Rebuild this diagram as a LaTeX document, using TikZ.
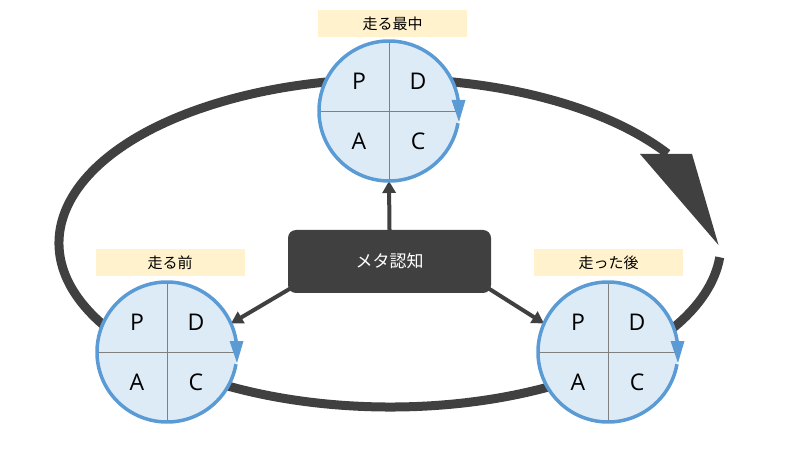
\documentclass[tikz,border=0pt]{standalone}
\usepackage{fontspec}
\setmainfont{Open Sans}
\newfontfamily\jp{Noto Sans CJK JP}
\usetikzlibrary{arrows.meta,calc,backgrounds}
\definecolor{dk}{HTML}{404040}
\definecolor{cblue}{HTML}{5B9BD5}
\definecolor{cfill}{HTML}{DDEBF7}
\definecolor{lblfill}{HTML}{FFF2CC}
\definecolor{quadc}{HTML}{808080}
\begin{document}
\begin{tikzpicture}[x=1pt,y=1pt,
  pdca/.style={circle,fill=cfill,inner sep=0pt,outer sep=0pt,minimum size=140pt},
  lab/.style={fill=lblfill,inner sep=0pt,minimum width=149pt,minimum height=27pt,font=\jp\fontsize{15}{15}\selectfont},
  letter/.style={font=\fontsize{23}{23}\selectfont,inner sep=0pt,text=black},
  ring/.style={draw=cblue,line width=3.5pt},
  quad/.style={draw=quadc,line width=0.9pt},
  metabox/.style={fill=dk,rounded corners=8pt,minimum width=203pt,minimum height=63pt,inner sep=0pt,text=white,font=\jp\fontsize{17}{17}\selectfont},
  conn/.style={draw=dk,line width=4pt,-{Triangle[length=12pt,width=13pt]}},
  loopline/.style={draw=dk,line width=9pt}]
\useasboundingbox (0,0) rectangle (800,450);
\coordinate (ec) at (390,207);
\node[pdca] (tc) at (389,339) {};
\node[pdca] (lc) at (167,98) {};
\node[pdca] (rc) at (608,98) {};
\node[lab] (tl) at (392.5,426.5) {走る最中};
\node[lab] (ll) at (170,187) {走る前};
\node[lab] (rl) at (608.5,187) {走った後};
\node[metabox] (meta) at (389.5,188.5) {メタ認知};
\foreach \c in {tc,lc,rc}{
  \draw[quad] (\c.north) -- (\c.south) (\c.west) -- (\c.east);
  \node[letter] (\c-p) at ($(\c)+(-30,30)$) {P};
  \node[letter] (\c-d) at ($(\c)+(29,30)$) {D};
  \node[letter] (\c-a) at ($(\c)+(-30,-30)$) {A};
  \node[letter] (\c-c) at ($(\c)+(29,-30)$) {C};
  \draw[ring] ($(\c)+(-10:70pt)$) arc[start angle=-10,end angle=-351,radius=70pt];
  \fill[cblue] ($(\c)+(62.5,11)$) -- ($(\c)+(76.5,11)$) -- ($(\c)+(70,-11)$) -- cycle;
}
\begin{pgfonlayer}{background}
  \draw[loopline] ($(ec)+(33:331pt and 164pt)$) arc[start angle=33,end angle=355,x radius=331pt,y radius=164pt];
  \fill[dk] (640,296) -- (692,296) -- (718.5,205) -- cycle;
  \draw[conn] (meta.north) -- (tc.south);
  \draw[conn] ($(meta.south west)+(3,5)$) -- (lc.24);
  \draw[conn] ($(meta.south east)+(-3,5)$) -- (rc.156);
\end{pgfonlayer}
\end{tikzpicture}
\end{document}
